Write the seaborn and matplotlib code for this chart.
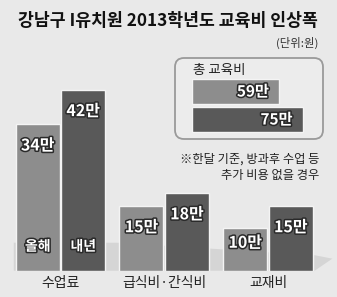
import matplotlib
matplotlib.use("Agg")
import matplotlib.pyplot as plt
import matplotlib.patheffects as pe
from matplotlib.patches import FancyBboxPatch, Polygon
import seaborn as sns
import pandas as pd

# ---- data ----
categories = ["수업료", "급식비·간식비", "교재비"]
years = ["올해", "내년"]
this_year = [34, 15, 10]
next_year = [42, 18, 15]
total_labels = ["올해", "내년"]
total_values = [59, 75]
title = "강남구 I유치원 2013학년도 교육비 인상폭"
unit = "(단위:원)"
note = "※한달 기준, 방과후 수업 등\n추가 비용 없을 경우"
box_title = "총 교육비"

sns.set_theme(style="white")
plt.rcParams["font.family"] = ["Noto Sans CJK KR", "DejaVu Sans"]

BG = "#e9e9e9"
LIGHT = "#8d8d8d"
DARK = "#595959"
W, H = 337, 297
fig = plt.figure(figsize=(W / 100, H / 100), dpi=100, facecolor=BG)

def px_axes(left, top, width, height, **kw):
    return fig.add_axes([left / W, 1 - (top + height) / H, width / W, height / H], **kw)

# background canvas for decorations (pixel coords)
bg = px_axes(0, 0, W, H)
bg.set_xlim(0, W); bg.set_ylim(H, 0); bg.axis("off"); bg.set_zorder(0)
bg.patch.set_alpha(0)

# ---- main bars ----
df = pd.DataFrame({
    "항목": categories * 2,
    "연도": [years[0]] * 3 + [years[1]] * 3,
    "금액": this_year + next_year,
})
base_px = 270.7
scale = 4.3  # px per 만
ymax = 50
ax = px_axes(8.6, base_px - ymax * scale, 311.3, ymax * scale)
ax.set_zorder(1)
ax.patch.set_alpha(0)

# floor shading ribbon
ax.add_patch(Polygon([(-0.45, 0), (2.45, 0), (2.62, 2.8), (2.45, 3.6), (0.55, 6.5), (-0.45, 6.5)],
                     closed=True, facecolor="#d5d5d5", edgecolor="none", zorder=0, clip_on=False))

sns.barplot(data=df, x="항목", y="금액", hue="연도", hue_order=years,
            palette={years[0]: LIGHT, years[1]: DARK}, width=0.877, gap=0.033,
            edgecolor="#f4f4f4", linewidth=1, legend=False, ax=ax, zorder=2)
ax.set_ylim(0, ymax)
ax.set_xlim(-0.5, 2.5)
ax.set_xlabel(""); ax.set_ylabel("")
ax.set_yticks([])
ax.tick_params(axis="x", length=0, pad=3.5, labelsize=10, labelcolor="#222222")
for s in ax.spines.values():
    s.set_visible(False)

stroke = [pe.withStroke(linewidth=2.2, foreground="#2a2a2a")]
for cont in ax.containers:
    for bar in cont:
        h = bar.get_height()
        xc = bar.get_x() + bar.get_width() / 2
        off = min(21, h * scale * 0.35)
        ax.annotate(f"{h:.0f}만", (xc, h), xytext=(0, -off), textcoords="offset pixels",
                    ha="center", va="center", color="white", fontsize=11.5,
                    fontweight="bold", path_effects=stroke, zorder=5)
# year labels on the first group
for cont, lab in zip(ax.containers, years):
    bar = cont[0]
    xc = bar.get_x() + bar.get_width() / 2
    ax.text(xc, 5.6, lab, ha="center", va="center", color="white", fontsize=10,
            fontweight="bold", path_effects=stroke, zorder=5)

# ---- title & unit ----
bg.text(168, 21, title, ha="center", va="center", fontsize=12.4, fontweight="bold", color="#111111")
bg.text(318, 43, unit, ha="right", va="center", fontsize=8.2, color="#333333")

# ---- inset box ----
bg.add_patch(FancyBboxPatch((175, 58), 148, 81, boxstyle="round,pad=0,rounding_size=9",
                            facecolor="#ececec", edgecolor="#9a9a9a", linewidth=1.3))
bg.text(193, 70, box_title, ha="left", va="center", fontsize=9.7, color="#222222")

iscale = 1.475
ixmax = 80
iax = px_axes(192, 77.5, ixmax * iscale, 56)
iax.set_zorder(2)
iax.patch.set_alpha(0)
tdf = pd.DataFrame({"구분": total_labels, "금액": total_values})
sns.barplot(data=tdf, y="구분", x="금액", hue="구분", hue_order=total_labels,
            palette={total_labels[0]: LIGHT, total_labels[1]: DARK}, orient="h",
            width=0.86, edgecolor="#f4f4f4", linewidth=1, legend=False, ax=iax)
iax.set_xlim(0, ixmax)
iax.set_ylim(1.5, -0.5)
iax.axis("off")
for cont in iax.containers:
    for bar in cont:
        w = bar.get_width()
        if w != w or w == 0:
            continue
        yc = bar.get_y() + bar.get_height() / 2
        iax.annotate(f"{w:.0f}만", (w, yc), xytext=(-10, 0), textcoords="offset pixels",
                     ha="right", va="center", color="white", fontsize=11,
                     fontweight="bold", path_effects=stroke)

# ---- note ----
bg.text(319, 167, note, ha="right", va="center", fontsize=8.8, color="#222222",
        linespacing=1.35, multialignment="right")

fig.savefig("out.png", dpi=100, facecolor=BG)
